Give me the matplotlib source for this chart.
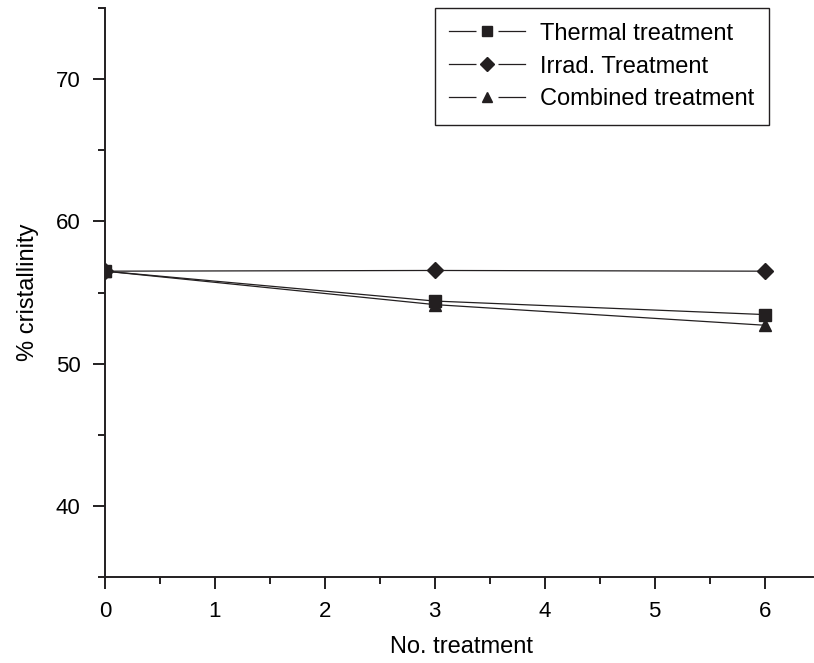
import matplotlib.pyplot as plt
from matplotlib.lines import Line2D
from matplotlib.ticker import MultipleLocator

plt.rcParams['font.family'] = ['Liberation Sans', 'DejaVu Sans']

treatments = [0, 3, 6]
thermal = [56.5, 54.4, 53.45]
irrad = [56.5, 56.55, 56.5]
combined = [56.5, 54.15, 52.7]
labels = ['Thermal treatment', 'Irrad. Treatment', 'Combined treatment']
markers = ['s', 'D', '^']

ink = '#231f20'

fig = plt.figure(figsize=(8.14, 6.63), dpi=100)
ax = fig.add_axes([0.129, 0.1297, 0.8697, 0.8582])

ax.plot(treatments, thermal, color=ink, lw=0.9, marker='s', ms=8)
ax.plot(treatments, irrad, color=ink, lw=0.9, marker='D', ms=8)
ax.plot(treatments, combined, color=ink, lw=0.9, marker='^', ms=9)

ax.set_xlim(0, 6.44)
ax.set_ylim(35, 75)
ax.xaxis.set_major_locator(MultipleLocator(1))
ax.xaxis.set_minor_locator(MultipleLocator(0.5))
ax.yaxis.set_major_locator(MultipleLocator(10))
ax.yaxis.set_minor_locator(MultipleLocator(5))
ax.tick_params(which='major', direction='out', length=8.6, width=1.4, labelsize=16, color=ink, pad=9)
ax.tick_params(which='minor', direction='out', length=5, width=1.4, color=ink)

for s in ['top', 'right']:
    ax.spines[s].set_visible(False)
for s in ['left', 'bottom']:
    ax.spines[s].set_linewidth(1.4)
    ax.spines[s].set_color(ink)

ax.set_xlabel('No. treatment', fontsize=17)
ax.set_ylabel('% cristallinity', fontsize=17)
ax.xaxis.set_label_coords(0.504, -0.104)
ax.yaxis.set_label_coords(-0.093, 0.5)

# legend handles: line, white mask for the gap, then the marker on top
handles = []
for m in markers:
    line = Line2D([], [], color=ink, lw=0.9)
    mask = Line2D([], [], ls='none', marker='s', ms=15.5, mfc='white', mec='none')
    mark = Line2D([], [], ls='none', marker=m, ms=7.5, mfc=ink, mec=ink)
    handles.append((line, mask, mark))

leg = ax.legend(handles, labels, loc='upper right', bbox_to_anchor=(0.938, 1.0), borderaxespad=0,
                fontsize=17, fancybox=False, edgecolor=ink, framealpha=1, handlelength=3.2,
                handletextpad=0.65, borderpad=0.62, labelspacing=0.46)
leg.get_frame().set_linewidth(1.0)

fig.savefig('out.png', dpi=100)
